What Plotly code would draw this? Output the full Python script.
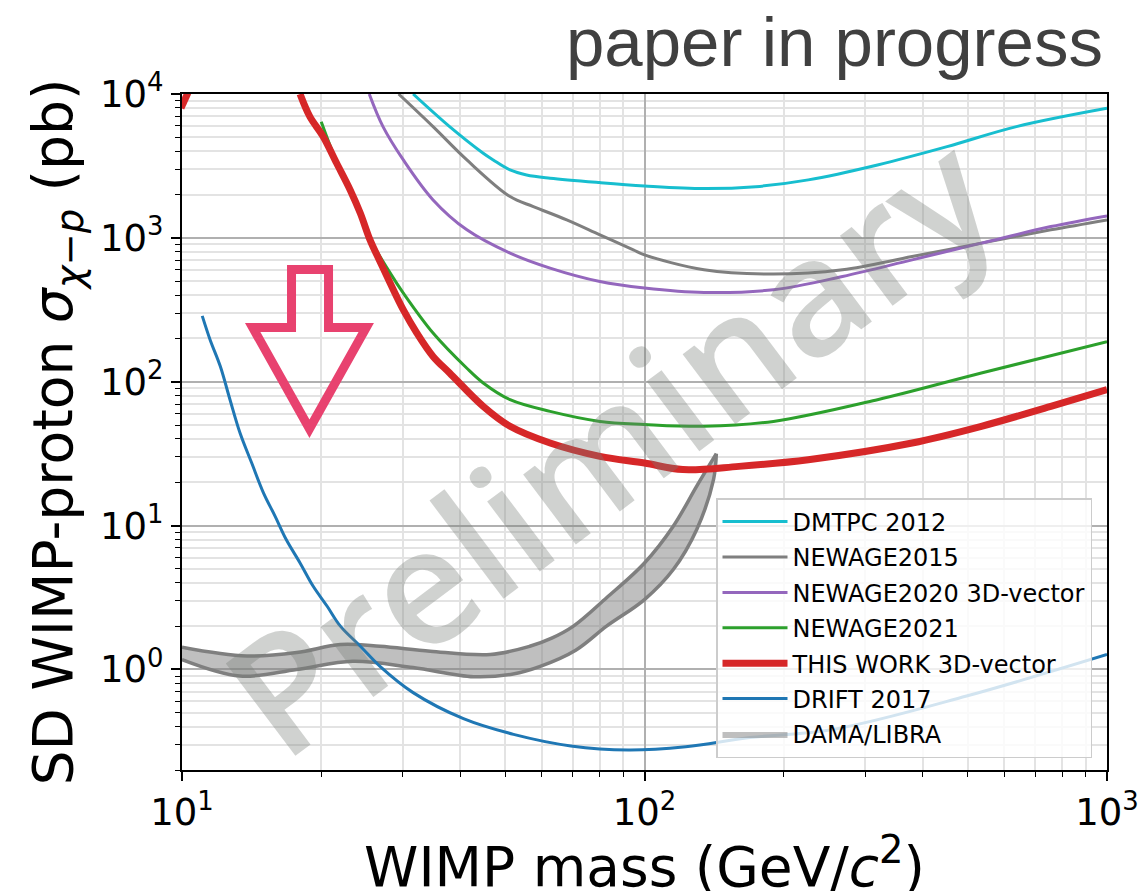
import plotly.graph_objects as go

# ---------------- data ----------------
dmtpc_m = [31.6, 37.9, 44.8, 47.1, 51.2, 55.6, 62.5, 80.1, 100, 134.5, 174, 226, 319, 451, 637, 1000]
dmtpc_s = [10000, 5930, 3873, 3480, 2966, 2738, 2600, 2421, 2297, 2200, 2270, 2529, 3213, 4305, 5930, 7950]

ng2015_m = [29.4, 34.9, 41.3, 51.2, 57.5, 67.9, 80.1, 94.6, 100, 134.5, 190, 268, 379, 535, 756, 1000]
ng2015_s = [10000, 5930, 3480, 1936, 1650, 1334, 1050, 826, 762, 600, 560, 600, 742, 919, 1137, 1334]

ng2020_m = [25.4, 27.2, 30.1, 34.9, 41.3, 51.2, 62.5, 80.1, 100, 134.5, 190, 268, 379, 535, 756, 1000]
ng2020_s = [10000, 5930, 3480, 1836, 1137, 783, 616, 497, 448, 417, 436, 539, 703, 919, 1198, 1422]

ng2021_m = [20.0, 21.6, 23.1, 25.5, 28.2, 30.1, 34.9, 41.3, 44.8, 51.2, 62.5, 80.1, 100, 134.5, 190, 319, 535, 1000]
ng2021_s = [6420, 3400, 2250, 990, 569, 413, 218, 124, 98, 75, 62.2, 53, 50.5, 49, 53, 75, 115, 190]

this_m = [18.0, 18.9, 20.2, 21.6, 23.1, 24.3, 25.5, 26.8, 28.2, 30.1, 32.2, 34.9, 37.9, 44.8, 51.2,
          62.5, 80.1, 100, 121, 160, 226, 379, 535, 756, 1000]
this_s = [10000, 6960, 5050, 3300, 2154, 1484, 968, 685, 484, 316, 218, 150, 115, 67.4, 49,
          37.5, 30.3, 27.2, 24.5, 25.8, 28.7, 37.5, 49, 67.4, 88]

this_low_m = [9.95, 10.3]
this_low_s = [8000, 10200]

drift_m = [11.06, 11.5, 12.1, 12.7, 13.35, 14.15, 15.0, 15.9, 16.8, 18.0, 19.2, 20.6, 22.0, 24.3, 26.8,
           31.6, 40.6, 52.1, 69.3, 92.3, 122.8, 169, 256, 497, 1000]
drift_s = [287, 196, 128, 75, 44, 27.2, 16.9, 11.6, 8.0, 5.5, 3.8, 2.75, 2.0, 1.45, 1.05,
           0.69, 0.455, 0.354, 0.294, 0.275, 0.29, 0.336, 0.383, 0.653, 1.27]

dama_up_m = [10, 13.8, 17.7, 22, 26.8, 34.4, 46.4, 56.5, 63, 70.2, 82.8, 100, 115.4, 129.7, 143]
dama_up_s = [1.43, 1.24, 1.31, 1.49, 1.45, 1.34, 1.27, 1.45, 1.65, 2.0, 3.15, 5.5, 9.9, 18.8, 31.6]
dama_lo_m = [10, 13.35, 17.7, 23.4, 31.6, 42.7, 52, 59.5, 71, 82.8, 100, 115.4, 129.7, 141, 143]
dama_lo_s = [1.17, 0.9, 1.0, 1.14, 1.03, 0.89, 0.93, 1.05, 1.36, 2.0, 3.06, 4.95, 9.4, 20.9, 31.6]

major_ticks_y = [1, 10, 100, 1000, 10000]
major_labels_y = ["10<sup>0</sup>", "10<sup>1</sup>", "10<sup>2</sup>", "10<sup>3</sup>", "10<sup>4</sup>"]
major_ticks_x = [10, 100, 1000]
major_labels_x = ["10<sup>1</sup>", "10<sup>2</sup>", "10<sup>3</sup>"]

minor_x = [d * 10 ** e for e in (1, 2) for d in range(2, 10)]
minor_y = [d * 10 ** e for e in (-1, 0, 1, 2, 3) for d in range(2, 10)]

# ---------------- figure ----------------
W, H = 1145, 891
ML, MR, MT, MB = 182, 38, 94, 121
PW, PH = W - ML - MR, H - MT - MB


def paper(px, py):
    return (px - ML) / PW, (H - MB - py) / PH


SM = 1.0
fig = go.Figure()

# DAMA/LIBRA band
fig.add_trace(go.Scatter(
    x=dama_up_m + dama_lo_m[::-1], y=dama_up_s + dama_lo_s[::-1],
    fill="toself", fillcolor="rgba(128,128,128,0.5)", mode="lines",
    line=dict(width=0, color="rgba(128,128,128,0.5)", shape="spline", smoothing=SM),
    name="DAMA/LIBRA", legendrank=7, legendgroup="g7", hoverinfo="skip"))
for mm, ss in ((dama_up_m, dama_up_s), (dama_lo_m, dama_lo_s)):
    fig.add_trace(go.Scatter(x=mm, y=ss, mode="lines", showlegend=False,
                             line=dict(color="#7f7f7f", width=3.5, shape="spline", smoothing=SM),
                             hoverinfo="skip"))

series = [
    ("DRIFT 2017", drift_m, drift_s, "#1f77b4", 3, 6),
    ("DMTPC 2012", dmtpc_m, dmtpc_s, "#17becf", 3, 1),
    ("NEWAGE2015", ng2015_m, ng2015_s, "#7f7f7f", 3, 2),
    ("NEWAGE2020 3D-vector", ng2020_m, ng2020_s, "#9467bd", 3, 3),
    ("NEWAGE2021", ng2021_m, ng2021_s, "#2ca02c", 3, 4),
    ("THIS WORK 3D-vector", this_m, this_s, "#d62728", 7, 5),
]
for name, mm, ss, col, w, rank in series:
    fig.add_trace(go.Scatter(x=mm, y=ss, mode="lines", name=name,
                             line=dict(color=col, width=w, shape="spline", smoothing=SM),
                             legendrank=rank, legendgroup="g%d" % rank))
fig.add_trace(go.Scatter(x=this_low_m, y=this_low_s, mode="lines", showlegend=False,
                         line=dict(color="#d62728", width=7)))

axis_common = dict(
    type="log", showline=True, linecolor="black", linewidth=2, mirror=True,
    showgrid=True, gridcolor="#b0b0b0", gridwidth=1.5,
    ticks="outside", ticklen=9, tickwidth=1.5, tickcolor="black",
    tickfont=dict(family="DejaVu Sans", size=37, color="black"),
    zeroline=False, automargin=False,
)

fig.update_layout(
    width=W, height=H,
    margin=dict(l=ML, r=MR, t=MT, b=MB),
    paper_bgcolor="white", plot_bgcolor="white",
    xaxis=dict(**axis_common, range=[1, 3], tickmode="array",
               tickvals=major_ticks_x, ticktext=major_labels_x,
               minor=dict(tickmode="array", tickvals=minor_x, showgrid=True,
                          gridcolor="#e3e3e3", gridwidth=1.5, ticks="outside",
                          ticklen=5, tickwidth=1.2, tickcolor="black")),
    yaxis=dict(**axis_common, range=[-0.69897, 4], tickmode="array",
               tickvals=major_ticks_y, ticktext=major_labels_y,
               minor=dict(tickmode="array", tickvals=minor_y, showgrid=True,
                          gridcolor="#e3e3e3", gridwidth=1.5, ticks="outside",
                          ticklen=5, tickwidth=1.2, tickcolor="black"),
               title=dict(text="SD WIMP-proton <i>σ</i><sub><i>χ−p</i></sub> (pb)",
                          font=dict(family="DejaVu Sans", size=55, color="black"),
                          standoff=10)),
    legend=dict(x=paper(716, 0)[0], y=paper(0, 758)[1], xanchor="left", yanchor="bottom",
                bgcolor="rgba(255,255,255,0.8)", bordercolor="#cccccc", borderwidth=1.5,
                font=dict(family="DejaVu Sans", size=24, color="black"),
                tracegroupgap=1.2, itemwidth=65),
    showlegend=True,
)

# x-axis title (placed as annotation for exact position)
tx, ty = paper(645, 863)
fig.add_annotation(text="WIMP mass (GeV/<i>c</i><sup>2</sup>)", x=0.5, y=ty,
                   xref="paper", yref="paper", xanchor="center", yanchor="middle",
                   showarrow=False, font=dict(family="DejaVu Sans", size=55, color="black"))

# hollow arrow
pts = [(291.5, 269.5), (328.5, 269.5), (328.5, 327.5), (366.3, 327.5),
       (309.5, 428.8), (252.7, 327.5), (291.5, 327.5)]
path = "M" + " L".join("%.4f,%.4f" % paper(px, py) for px, py in pts) + " Z"
fig.add_shape(type="path", path=path, xref="paper", yref="paper",
              line=dict(color="#e8426f", width=9), fillcolor="rgba(0,0,0,0)")

# watermark
wx, wy = paper(607, 442)
fig.add_annotation(text="Preliminary", x=wx, y=wy, xref="paper", yref="paper",
                   xanchor="center", yanchor="middle", showarrow=False, textangle=-37,
                   font=dict(family="Open Sans", size=162, weight=600,
                             color="rgba(120,125,120,0.35)"))

# header text
hx, hy = paper(1105, 83)
fig.add_annotation(text="paper in progress", x=hx, y=hy, xref="paper", yref="paper",
                   xanchor="right", yanchor="bottom", showarrow=False,
                   font=dict(family="Liberation Sans", size=69, color="#404040"))

fig.write_html("out.html", config={"displayModeBar": False},
               post_script="document.body.style.margin='0px';document.body.style.overflow='hidden';")
